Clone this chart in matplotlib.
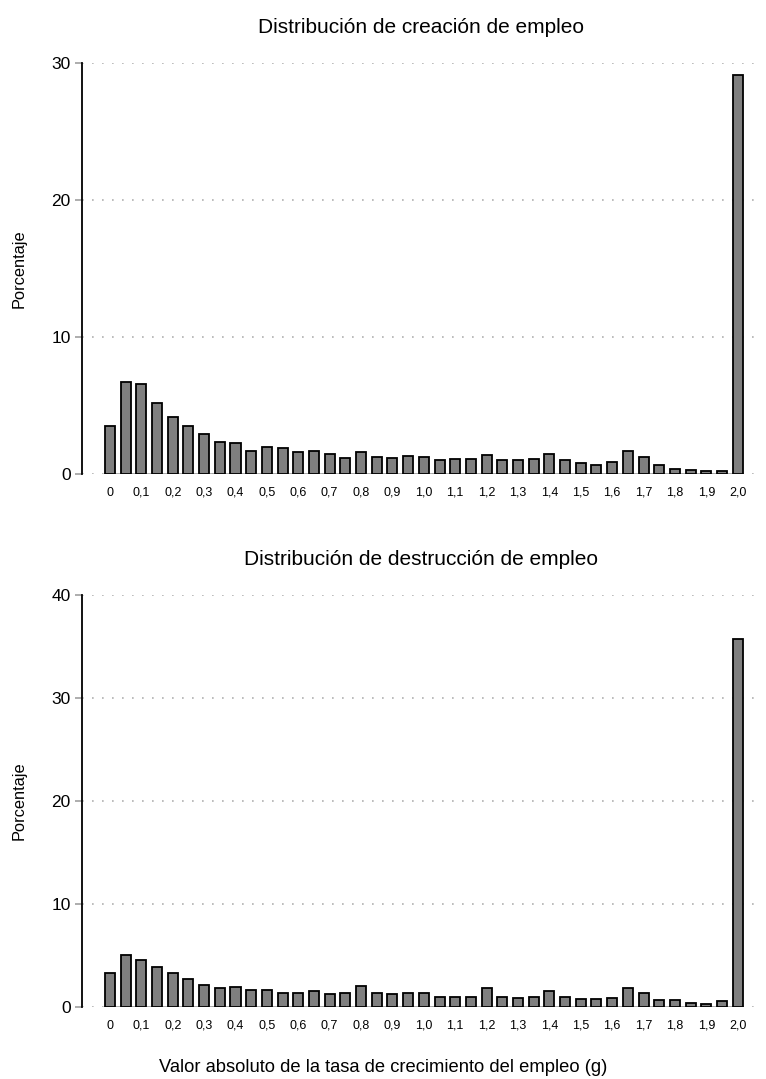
import numpy as np
import matplotlib.pyplot as plt

plt.rcParams['font.family'] = ['Liberation Sans', 'DejaVu Sans']

# clases de g (0 a 2,0 en pasos de 0,05)
g = np.round(np.arange(41) * 0.05, 2)

creacion = [3.53, 6.69, 6.55, 5.20, 4.16, 3.48, 2.92, 2.36, 2.24, 1.68,
            1.97, 1.87, 1.58, 1.68, 1.46, 1.15, 1.63, 1.22, 1.15, 1.31,
            1.22, 1.02, 1.07, 1.07, 1.41, 1.02, 1.02, 1.12, 1.46, 1.02,
            0.78, 0.66, 0.90, 1.65, 1.22, 0.66, 0.36, 0.29, 0.20, 0.24,
            29.1]

destruccion = [3.33, 5.05, 4.56, 3.88, 3.33, 2.69, 2.10, 1.87, 1.94, 1.62,
               1.62, 1.39, 1.39, 1.52, 1.23, 1.39, 2.04, 1.36, 1.26, 1.39,
               1.39, 1.00, 1.00, 1.00, 1.84, 0.94, 0.87, 0.94, 1.58, 0.94,
               0.81, 0.81, 0.87, 1.84, 1.36, 0.68, 0.68, 0.36, 0.33, 0.61,
               35.7]

xticks = np.round(np.arange(21) * 0.1, 1)
xlabels = ['0'] + [('%.1f' % v).replace('.', ',') for v in xticks[1:]]

panels = [
    ('Distribución de creación de empleo', creacion, [0, 10, 20, 30], 30,
     [0.107, 0.5607, 0.886, 0.3809]),
    ('Distribución de destrucción de empleo', destruccion, [0, 10, 20, 30, 40], 40,
     [0.107, 0.0667, 0.886, 0.3818]),
]

fig = plt.figure(figsize=(7.66, 10.79), dpi=100)

for titulo, datos, yt, ymax, pos in panels:
    ax = fig.add_axes(pos)
    w = 0.032
    ax.bar(g, datos, width=w, color='#7f7f7f', edgecolor='black', linewidth=1.3, zorder=3)
    # linea base bajo las barras
    ax.plot([g[0] - w / 2, g[-1] + w / 2], [0, 0], color='#a0a0a0', lw=1.2, zorder=2)
    ax.set_xlim(-0.0892, 2.073)
    ax.set_ylim(0, ymax)
    ax.set_yticks(yt)
    ax.set_xticks(xticks)
    ax.set_xticklabels(xlabels, fontsize=9)
    ax.tick_params(axis='x', length=0, pad=9)
    ax.tick_params(axis='y', length=5, width=1.2, color='#a0a0a0', labelsize=12.5, pad=3)
    for v in yt:
        ax.axhline(v, color='#b0b0b0', ls=(0, (1, 5)), lw=1.2, zorder=1)
    for s in ['top', 'right', 'bottom']:
        ax.spines[s].set_visible(False)
    ax.spines['left'].set_linewidth(1.3)
    ax.set_title(titulo, fontsize=15, pad=21.5)
    ax.set_ylabel('Porcentaje', fontsize=11.8, labelpad=18)

fig.text(0.5, 1 - 1067 / 1079, 'Valor absoluto de la tasa de crecimiento del empleo (g)',
         ha='center', va='center', fontsize=13.2)

fig.savefig('out.png', dpi=100, facecolor='white')
